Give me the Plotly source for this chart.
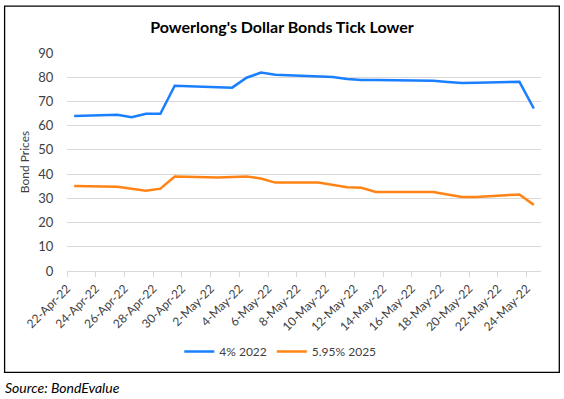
import plotly.graph_objects as go
import pandas as pd

dates = ["2022-04-22", "2022-04-25", "2022-04-26", "2022-04-27", "2022-04-28", "2022-04-29",
         "2022-05-02", "2022-05-03", "2022-05-04", "2022-05-05", "2022-05-06",
         "2022-05-09", "2022-05-10", "2022-05-11", "2022-05-12", "2022-05-13",
         "2022-05-16", "2022-05-17", "2022-05-18", "2022-05-19", "2022-05-20",
         "2022-05-23", "2022-05-24"]
bond_4_2022 = [64.0, 64.5, 63.5, 64.9, 64.9, 76.5,
               75.9, 75.7, 79.8, 81.9, 81.0,
               80.5, 80.1, 79.3, 78.9, 78.9,
               78.7, 78.5, 78.0, 77.6, 77.7,
               78.1, 67.1]
bond_595_2025 = [35.1, 34.8, 34.0, 33.1, 34.0, 39.0,
                 38.6, 38.8, 39.0, 38.2, 36.5,
                 36.5, 35.5, 34.6, 34.4, 32.6,
                 32.6, 32.6, 31.6, 30.6, 30.6,
                 31.6, 27.3]
series_names = ["4% 2022", "5.95% 2025"]
title_text = "Powerlong's Dollar Bonds Tick Lower"
y_title = "Bond Prices"
source_text = "Source: BondEvalue"

# points centred in each day slot (Excel date axis)
x_vals = pd.to_datetime(dates) + pd.Timedelta(hours=12)

FONT = "Lato"
fig = go.Figure()
fig.add_trace(go.Scatter(x=x_vals, y=bond_4_2022, mode="lines", name=series_names[0],
                         line=dict(color="#1A7FFF", width=2.5)))
fig.add_trace(go.Scatter(x=x_vals, y=bond_595_2025, mode="lines", name=series_names[1],
                         line=dict(color="#FF8415", width=2.5)))

L, R, T, B = 66.7, 540.7, 52.7, 271.3
W, H = 564, 399
pw, ph = R - L, B - T

def px(x):
    return (x - L) / pw

def py(y):
    return (B - y) / ph

fig.update_layout(
    width=W, height=H,
    margin=dict(l=L, r=W - R, t=T, b=H - B, pad=0),
    paper_bgcolor="white", plot_bgcolor="white",
    font=dict(family=FONT, size=12, color="#404040"),
    title=dict(text="<b>" + title_text + "</b>", x=282 / W, xref="container", xanchor="center",
               y=1 - 27 / H, yanchor="middle", font=dict(family=FONT, size=16, color="black")),
    showlegend=True,
    legend=dict(orientation="h", x=px(280), xanchor="center", y=py(352), yanchor="middle",
                font=dict(family=FONT, size=12, color="#404040"), bgcolor="rgba(0,0,0,0)",
                itemwidth=30),
    xaxis=dict(type="date", range=["2022-04-22", "2022-05-25"],
               tick0="2022-04-22", dtick=2 * 86400000, tickformat="%-d-%b-%y",
               tickangle=-45, showgrid=False, showline=True, linecolor="#D9D9D9", linewidth=1,
               ticks="outside", ticklen=5, tickcolor="#D9D9D9",
               tickfont=dict(family=FONT, size=12, color="#404040")),
    yaxis=dict(range=[0, 90], dtick=10, showgrid=True, gridcolor="#D9D9D9", gridwidth=1,
               zeroline=False, showline=False, ticks="outside", ticklen=10, tickcolor="rgba(0,0,0,0)",
               tickfont=dict(family=FONT, size=13, color="#404040"),
               title=dict(text=y_title, standoff=6, font=dict(family=FONT, size=12, color="#404040"))),
)

# outer frame
fig.add_shape(type="rect", xref="paper", yref="paper",
              x0=px(4.3), x1=px(559), y0=py(373), y1=py(5.7),
              line=dict(color="black", width=1.3), fillcolor="rgba(0,0,0,0)", layer="below")

fig.add_annotation(text="<i>" + source_text + "</i>", xref="paper", yref="paper",
                   x=px(3), xanchor="left", y=py(388), yanchor="middle", showarrow=False,
                   font=dict(family=FONT, size=14, color="black"))

fig.write_html("out.html", config={"displayModeBar": False},
               post_script="document.body.style.margin='0px';document.body.style.overflow='hidden';")
